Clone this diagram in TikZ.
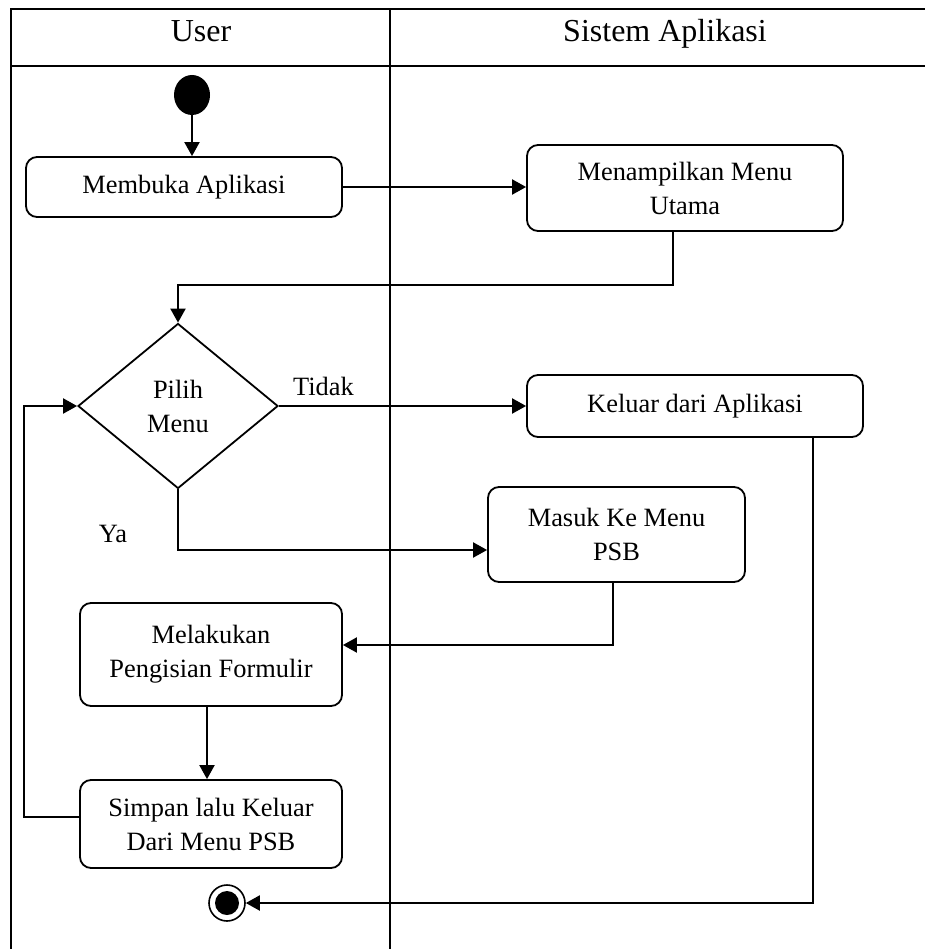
\documentclass[tikz,border=0pt]{standalone}
\usepackage{fontspec}
\setmainfont{Liberation Serif}
\usetikzlibrary{arrows.meta,shapes.geometric}

\newcommand\actfont{\fontsize{26.4pt}{34pt}\selectfont}
\newcommand\headfont{\fontsize{32pt}{38pt}\selectfont}

\begin{document}
\begin{tikzpicture}[x=1pt,y=-1pt,
  lane/.style={line width=2.6pt},
  activity/.style={draw, rounded corners=11pt, line width=1.8pt, align=center,
    inner sep=0pt, font=\actfont},
  decision/.style={diamond, draw, line width=1.8pt, align=center, inner sep=0pt,
    font=\actfont},
  flow/.style={line width=2pt, -{Triangle[length=14pt,width=15pt]}},
  label/.style={font=\actfont, inner sep=0pt},
]
\useasboundingbox (0,0) rectangle (925,949);

% swimlane frame
\draw[lane] (11,949) -- (11,9) -- (925,9);
\draw[lane] (11,66) -- (925,66);
\draw[lane] (390,9) -- (390,949);

% lane headers
\node[anchor=base, font=\headfont] (hUser) at (201,42) {User};
\node[anchor=base, font=\headfont] (hSys) at (665,42) {Sistem Aplikasi};

% initial and final states
\node[ellipse, fill=black, minimum width=36pt, minimum height=40pt, inner sep=0pt]
  (start) at (192,95) {};
\node[circle, draw, line width=1.6pt, minimum size=36pt, inner sep=0pt,
  path picture={\fill[black] (path picture bounding box.center) circle (12pt);}]
  (end) at (227,903) {};

% activities
\node[activity, minimum width=316pt, minimum height=60pt] (open) at (184,187)
  {Membuka Aplikasi};
\node[activity, minimum width=316pt, minimum height=86pt] (menu) at (685,188)
  {Menampilkan Menu\\Utama};
\node[decision, minimum width=200pt, minimum height=165pt] (choice) at (178,406)
  {Pilih\\Menu};
\node[activity, minimum width=336pt, minimum height=62pt] (quit) at (695,406)
  {Keluar dari Aplikasi};
\node[activity, minimum width=257pt, minimum height=95pt] (psb) at (616.5,534.5)
  {Masuk Ke Menu\\PSB};
\node[activity, minimum width=262pt, minimum height=103pt] (fill) at (211,654.5)
  {Melakukan\\Pengisian Formulir};
\node[activity, minimum width=262pt, minimum height=88pt] (save) at (211,824)
  {Simpan lalu Keluar\\Dari Menu PSB};

\node[label] (lblYa) at (113,534) {Ya};

% control flow
\draw[flow] (start) -- (start |- open.north);
\draw[flow] (open.east) -- (open.east -| menu.west);
\draw[flow] ([xshift=-12pt]menu.south) -- ++(0,53) -| (choice.north);
\draw[flow] (choice.east) -- node[label, above=9pt, pos=0.18] (lblTidak) {Tidak}
  (choice.east -| quit.west);
\draw[flow] (choice.south) |- ([yshift=-15.5pt]psb.west);
\draw[flow] ([xshift=-3.5pt]psb.south) |- ([yshift=9.5pt]fill.east);
\draw[flow] ([xshift=-4pt]fill.south) -- ([xshift=-4pt]save.north);
\draw[flow] ([yshift=7pt]save.west) -- ++(-55,0) |- (choice.west);
\draw[flow] ([xshift=118pt]quit.south) |- (end.east);
\end{tikzpicture}
\end{document}
